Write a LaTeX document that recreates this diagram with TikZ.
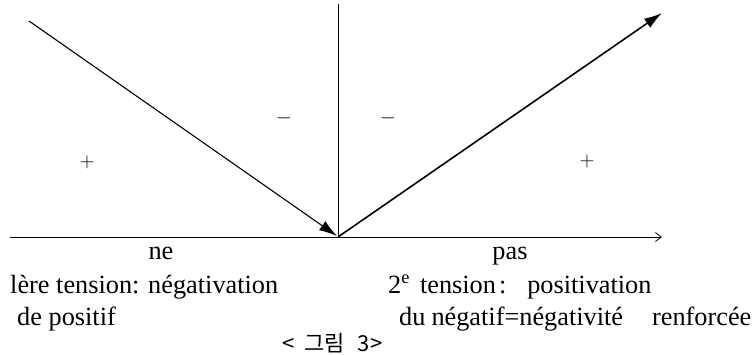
\documentclass[tikz,border=0pt]{standalone}
\usepackage{fontspec}
\setmainfont{Liberation Serif}
\newfontfamily\krfont{Noto Sans CJK KR}
\usetikzlibrary{arrows.meta}
\begin{document}
\begin{tikzpicture}[x=1pt,y=-1pt,
  lab/.style={inner sep=0pt,anchor=base west,font=\fontsize{26.3}{28}\selectfont},
  labc/.style={inner sep=0pt,anchor=base,font=\fontsize{26.3}{28}\selectfont},
  sign/.style={inner sep=0pt,font=\fontsize{21}{24}\selectfont},
  vec/.style={line width=1.6pt,-{Latex[length=18pt,width=11pt]}},
  axisline/.style={line width=0.8pt,-{Straight Barb[length=6pt,width=9pt]}}]
\useasboundingbox (0,0) rectangle (755,354);
\coordinate (O) at (338,237);
\coordinate (Ltop) at (29,21);
\coordinate (Ltip) at (337,236);
\coordinate (Vtop) at (338,4);
\coordinate (Rtip) at (662,13);
\coordinate (Astart) at (10,237);
\coordinate (Aend) at (662,237);
\draw[axisline] (Astart) -- (Aend);
\draw[line width=0.8pt] (Vtop) -- (O);
\draw[vec,line width=1.1pt] (Ltop) -- (Ltip);
\draw[vec] (O) -- (Rtip);
\node[sign] (m1) at (284,118) {$-$};
\node[sign] (m2) at (388,118) {$-$};
\node[sign] (p1) at (87,162) {$+$};
\node[sign] (p2) at (587,161) {$+$};
\node[labc] (ne) at (161,259) {ne};
\node[labc] (pas) at (510,259) {pas};
\node[lab] (t1) at (10,293) {lère tension: négativation};
\node[lab] (t2) at (17,325) {de positif};
\node[lab] (t3) at (388,293) {2\textsuperscript{e}\hspace{10pt}tension\hspace{3pt}:\hspace{21pt}positivation};
\node[lab] (t4) at (399,325) {du\hspace{6pt}négatif=négativité\hspace{29pt}renforcée};
\node[inner sep=0pt,anchor=base west,font=\krfont\fontsize{22}{24}\selectfont] (cap) at (282,351) {<\hspace{10pt}그림\hspace{13pt}3>};
\end{tikzpicture}
\end{document}
